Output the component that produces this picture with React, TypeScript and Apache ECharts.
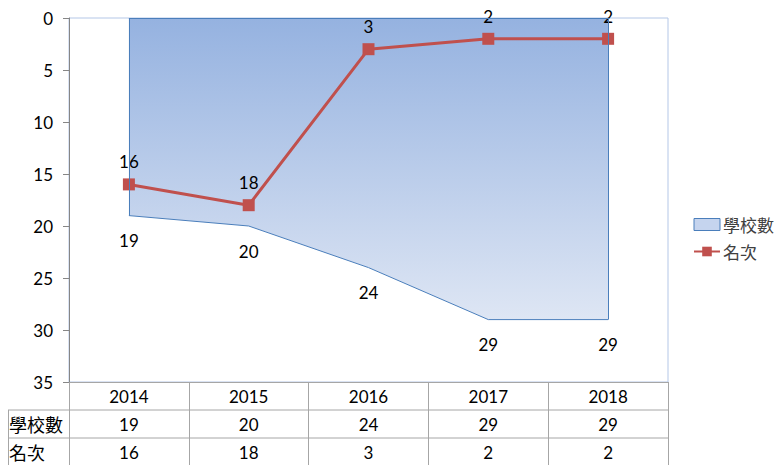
import React, { useEffect, useRef } from "react";
import * as echarts from "echarts";

const years = ["2014", "2015", "2016", "2017", "2018"];
const schoolCount = [19, 20, 24, 29, 29];
const ranking = [16, 18, 3, 2, 2];
const seriesNames = ["學校數", "名次"];
const yTicks = { min: 0, max: 35, interval: 5 };

const GRID = { left: 69, right: 109, top: 18, bottom: 83 };
const ROW_H = 28;
const W = 777;
const H = 465;

export default function App() {
  const ref = useRef<HTMLDivElement>(null);
  useEffect(() => {
    if (!ref.current) return;
    const chart = echarts.init(ref.current, undefined, { renderer: "svg" });
    const axisBottom = H - GRID.bottom;
    const plotRight = W - GRID.right;
    const latin = "Lato, 'Noto Sans', sans-serif";
    const cjk = "'Noto Sans CJK TC', sans-serif";
    const gridGray = "#a6a6a6";
    chart.setOption({
      animation: false,
      backgroundColor: "#ffffff",
      grid: {
        left: GRID.left,
        right: GRID.right,
        top: GRID.top,
        bottom: GRID.bottom,
        show: true,
        borderColor: "#b4c7e7",
        borderWidth: 1,
        backgroundColor: "transparent",
      },
      legend: {
        orient: "vertical",
        left: 688,
        top: 211,
        itemGap: 10,
        itemWidth: 26,
        itemHeight: 12,
        textStyle: { fontFamily: cjk, fontSize: 17, color: "#404040", padding: [0, 0, 0, -2] },
        data: [
          {
            name: seriesNames[0],
            icon: "rect",
            itemStyle: { color: "#c5d4ee", borderColor: "#4a7ebb", borderWidth: 1, opacity: 1 },
          },
          { name: seriesNames[1] },
        ],
      },
      xAxis: {
        type: "category",
        data: years,
        boundaryGap: true,
        position: "bottom",
        axisLine: { show: true, onZero: false, lineStyle: { color: gridGray, width: 1 } },
        axisTick: {
          show: true,
          interval: 0,
          length: GRID.bottom,
          lineStyle: { color: gridGray, width: 1 },
        },
        axisLabel: {
          interval: 0,
          margin: 0,
          formatter: (v: string, i: number) =>
            `{c|${v}}\n{c|${schoolCount[i]}}\n{c|${ranking[i]}}`,
          rich: {
            c: {
              fontFamily: latin,
              fontSize: 17,
              lineHeight: ROW_H,
              color: "#000000",
              align: "center",
            },
          },
        },
        splitLine: { show: false },
      },
      yAxis: {
        type: "value",
        inverse: true,
        min: yTicks.min,
        max: yTicks.max,
        interval: yTicks.interval,
        axisLine: { show: true, lineStyle: { color: "#868686", width: 1 } },
        axisTick: { show: true, length: 6, lineStyle: { color: "#868686" } },
        axisLabel: { fontFamily: latin, fontSize: 17, color: "#000000", margin: 16 },
        splitLine: { show: false },
      },
      series: [
        {
          name: seriesNames[0],
          type: "line",
          data: schoolCount,
          symbol: "circle",
          symbolSize: 1,
          itemStyle: { color: "rgba(0,0,0,0)", borderWidth: 0 },
          lineStyle: { color: "#4a7ebb", width: 1 },
          areaStyle: {
            origin: "start",
            opacity: 1,
            color: new echarts.graphic.LinearGradient(0, 0, 0, 1, [
              { offset: 0, color: "#95b2e0" },
              { offset: 1, color: "#dee6f4" },
            ]),
          },
          label: {
            show: true,
            position: "bottom",
            distance: 16,
            fontFamily: latin,
            fontSize: 17,
            color: "#000000",
          },
          markLine: {
            silent: true,
            symbol: "none",
            label: { show: false },
            lineStyle: { color: "#4a7ebb", width: 1, type: "solid" },
            data: [
              [{ coord: [years[0], 0] }, { coord: [years[0], schoolCount[0]] }],
              [
                { coord: [years[years.length - 1], 0] },
                { coord: [years[years.length - 1], schoolCount[schoolCount.length - 1]] },
              ],
              [{ coord: [years[0], 0] }, { coord: [years[years.length - 1], 0] }],
            ],
          },
          z: 1,
        },
        {
          name: seriesNames[1],
          type: "line",
          data: ranking,
          symbol: "rect",
          symbolSize: 12,
          itemStyle: { color: "#c0504d" },
          lineStyle: { color: "#c0504d", width: 3 },
          label: {
            show: true,
            position: "top",
            distance: 8,
            fontFamily: latin,
            fontSize: 17,
            color: "#000000",
          },
          z: 3,
        },
      ],
      graphic: [
        {
          type: "line",
          shape: { x1: 8, y1: axisBottom + ROW_H, x2: plotRight, y2: axisBottom + ROW_H },
          style: { stroke: gridGray, lineWidth: 1 },
        },
        {
          type: "line",
          shape: { x1: 8, y1: axisBottom + 2 * ROW_H, x2: plotRight, y2: axisBottom + 2 * ROW_H },
          style: { stroke: gridGray, lineWidth: 1 },
        },
        {
          type: "line",
          shape: { x1: 8.5, y1: axisBottom + ROW_H, x2: 8.5, y2: H },
          style: { stroke: gridGray, lineWidth: 1 },
        },
        {
          type: "text",
          x: 9,
          y: axisBottom + ROW_H * 1.5,
          style: {
            text: seriesNames[0],
            fontFamily: cjk,
            fontSize: 18,
            fill: "#000000",
            verticalAlign: "middle",
          },
        },
        {
          type: "text",
          x: 9,
          y: axisBottom + ROW_H * 2.5,
          style: {
            text: seriesNames[1],
            fontFamily: cjk,
            fontSize: 18,
            fill: "#000000",
            verticalAlign: "middle",
          },
        },
      ],
    });
    return () => chart.dispose();
  }, []);
  return (
    <div
      ref={ref}
      style={{ position: "fixed", left: 0, top: 0, width: W, height: H, background: "#fff" }}
    />
  );
}
